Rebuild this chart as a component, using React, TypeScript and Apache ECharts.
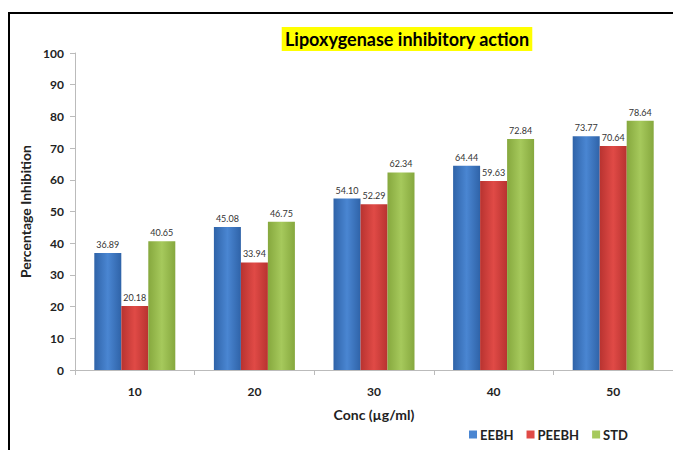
import React, { useEffect, useRef } from "react";
import * as echarts from "echarts";

const categories = ["10", "20", "30", "40", "50"];
const eebh = [36.89, 45.08, 54.1, 64.44, 73.77];
const peebh = [20.18, 33.94, 52.29, 59.63, 70.64];
const std = [40.65, 46.75, 62.34, 72.84, 78.64];
const seriesNames = ["EEBH", "PEEBH", "STD"];
const seriesColors = [
  ["#2f63a8", "#4a86d2", "#2f63a8"],
  ["#b83330", "#e04a46", "#b83330"],
  ["#86a83e", "#a6c95c", "#86a83e"],
];

const grad = (c: string[]) =>
  new echarts.graphic.LinearGradient(0, 0, 1, 0, [
    { offset: 0, color: c[0] },
    { offset: 0.5, color: c[1] },
    { offset: 1, color: c[2] },
  ]);

export default function App() {
  const ref = useRef<HTMLDivElement>(null);
  useEffect(() => {
    if (!ref.current) return;
    const chart = echarts.init(ref.current, null, { renderer: "svg" });
    const data = [eebh, peebh, std];
    chart.setOption({
      animation: false,
      backgroundColor: "#ffffff",
      textStyle: { fontFamily: "Lato" },
      title: {
        text: "Lipoxygenase inhibitory action",
        left: 404,
        textAlign: "center",
        top: 27,
        backgroundColor: "#ffff00",
        padding: [3, 3, 3, 3],
        textStyle: { fontFamily: "Lato", fontWeight: "bold", fontSize: 18, color: "#000" },
      },
      legend: {
        data: seriesNames.map((n, i) => ({ name: n, itemStyle: { color: seriesColors[i][1] } })),
        left: 464,
        top: 423,
        itemWidth: 8,
        itemHeight: 8,
        itemGap: 13,
        icon: "rect",
        textStyle: { fontFamily: "Lato", fontWeight: "bold", fontSize: 13, color: "#222", padding: [0, 0, 0, -2] },
      },
      grid: { left: 75, top: 53, width: 600, height: 317, containLabel: false },
      xAxis: {
        type: "category",
        data: categories,
        name: "Conc (µg/ml)",
        nameLocation: "middle",
        nameGap: 37,
        nameTextStyle: { fontFamily: "Lato", fontWeight: "bold", fontSize: 14, color: "#222" },
        axisLine: { lineStyle: { color: "#bbbbbb" } },
        axisTick: { show: true, length: 5, lineStyle: { color: "#bbbbbb" } },
        axisLabel: { fontFamily: "Lato", fontWeight: "bold", fontSize: 12, color: "#222", margin: 15 },
      },
      yAxis: {
        type: "value",
        min: 0,
        max: 100,
        interval: 10,
        name: "Percentage Inhibition",
        nameLocation: "middle",
        nameGap: 40,
        nameRotate: 90,
        nameTextStyle: { fontFamily: "Lato", fontWeight: "bold", fontSize: 14, color: "#222" },
        splitLine: { show: false },
        axisLine: { show: true, lineStyle: { color: "#bbbbbb" } },
        axisTick: { show: true, length: 5, lineStyle: { color: "#bbbbbb" } },
        axisLabel: { fontFamily: "Lato", fontWeight: "bold", fontSize: 12, color: "#222", margin: 11 },
      },
      series: seriesNames.map((n, i) => ({
        name: n,
        type: "bar",
        data: data[i],
        barWidth: 27,
        barGap: "0%",
        itemStyle: { color: grad(seriesColors[i]) },
        label: {
          show: true,
          position: "top",
          distance: 4,
          formatter: (p: any) => Number(p.value).toFixed(2),
          fontFamily: "Lato",
          fontSize: 9,
          color: "#333",
        },
      })),
      graphic: [
        {
          type: "rect",
          shape: { x: 9, y: 13, width: 700, height: 500 },
          style: { fill: "none", stroke: "#000", lineWidth: 2 },
          silent: true,
        },
      ],
    });
    return () => chart.dispose();
  }, []);
  return (
    <div
      ref={ref}
      style={{ position: "fixed", left: 0, top: 0, width: 673, height: 450 }}
    />
  );
}
